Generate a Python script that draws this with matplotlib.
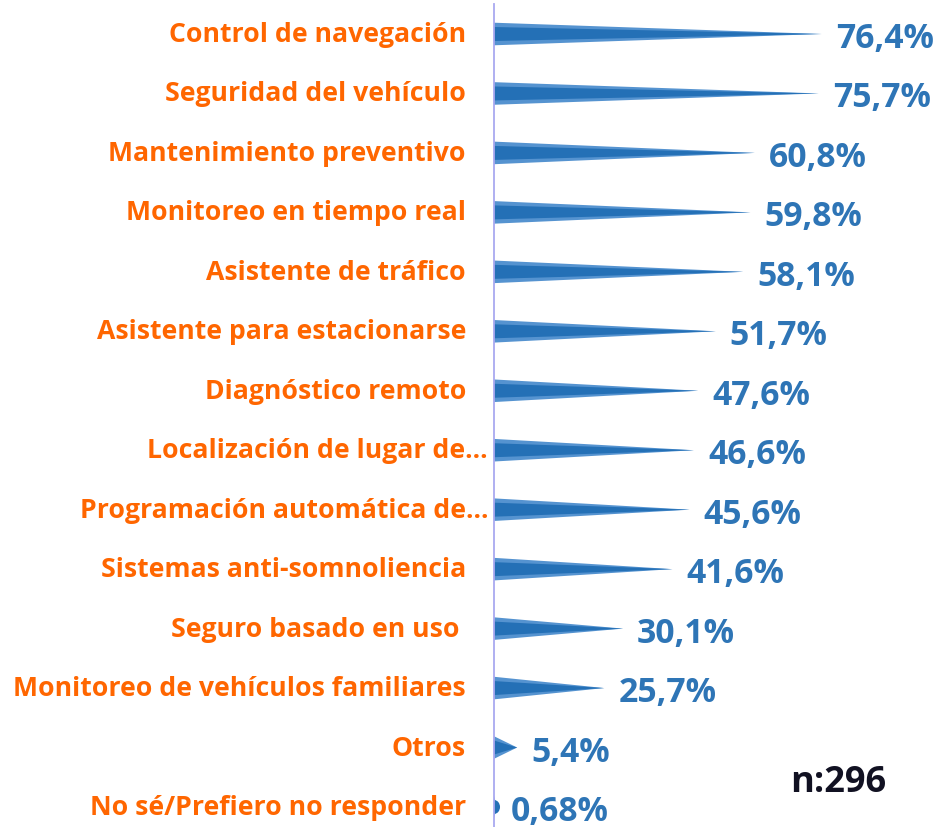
import matplotlib
matplotlib.use("Agg")
import matplotlib.pyplot as plt
from matplotlib.patches import Polygon, Ellipse

categories = [
    "Control de navegación",
    "Seguridad del vehículo",
    "Mantenimiento preventivo",
    "Monitoreo en tiempo real",
    "Asistente de tráfico",
    "Asistente para estacionarse",
    "Diagnóstico remoto",
    "Localización de lugar de...",
    "Programación automática de...",
    "Sistemas anti-somnoliencia",
    "Seguro basado en uso ",
    "Monitoreo de vehículos familiares",
    "Otros",
    "No sé/Prefiero no responder",
]
values = [76.4, 75.7, 60.8, 59.8, 58.1, 51.7, 47.6, 46.6, 45.6, 41.6, 30.1, 25.7, 5.4, 0.68]
value_labels = ["76,4%", "75,7%", "60,8%", "59,8%", "58,1%", "51,7%", "47,6%", "46,6%",
                "45,6%", "41,6%", "30,1%", "25,7%", "5,4%", "0,68%"]
sample_note = "n:296"

plt.rcParams['font.family'] = ['Open Sans', 'DejaVu Sans']

W, H = 936, 828
fig = plt.figure(figsize=(W / 100, H / 100), dpi=100)
ax_left = 494
ax = fig.add_axes([ax_left / W, 0, (W - ax_left) / W, 1])
px_per_unit = 4.29
ax.set_xlim(0, (W - ax_left) / px_per_unit)
row0, step = 35, 59.46
ax.set_ylim((H - row0) / step, -row0 / step)
ax.axis("off")

light = "#5593D0"
dark = "#2470B6"
half = 0.19
for i, v in enumerate(values):
    outer = Polygon([[0, i - half], [0, i + half], [v, i]], closed=True,
                    facecolor=light, edgecolor="none")
    ax.add_patch(outer)
    inner = Polygon([[0, i - half * 0.62], [0, i + half * 0.62], [v, i]], closed=True,
                    facecolor=dark, edgecolor="none")
    ax.add_patch(inner)
    if v < 2:
        e = Ellipse((0, i), width=2 * 1.4, height=14 / step, facecolor=dark, edgecolor="none")
        ax.add_patch(e)
    ax.text(v + 14 / px_per_unit, i + 4 / step, value_labels[i], color="#2E75B6",
            fontsize=24.3, fontweight="bold", ha="left", va="center")

# vertical axis line
ax.plot([0, 0], [(H - row0) / step, (5 - row0) / step], color="#A9A9F0", lw=1.3,
        clip_on=False, zorder=5)

for i, c in enumerate(categories):
    if c.endswith("..."):
        x = 488
    else:
        x = 466
    fig.text(x / W, 1 - (row0 + i * step) / H, c, color="#FF6600", fontsize=19.2,
             fontweight="bold", ha="right", va="center")

fig.text(838 / W, 1 - 783 / H, sample_note, color="#111122", fontsize=26,
         fontweight="bold", ha="center", va="center")

fig.savefig("out.png", dpi=100)
